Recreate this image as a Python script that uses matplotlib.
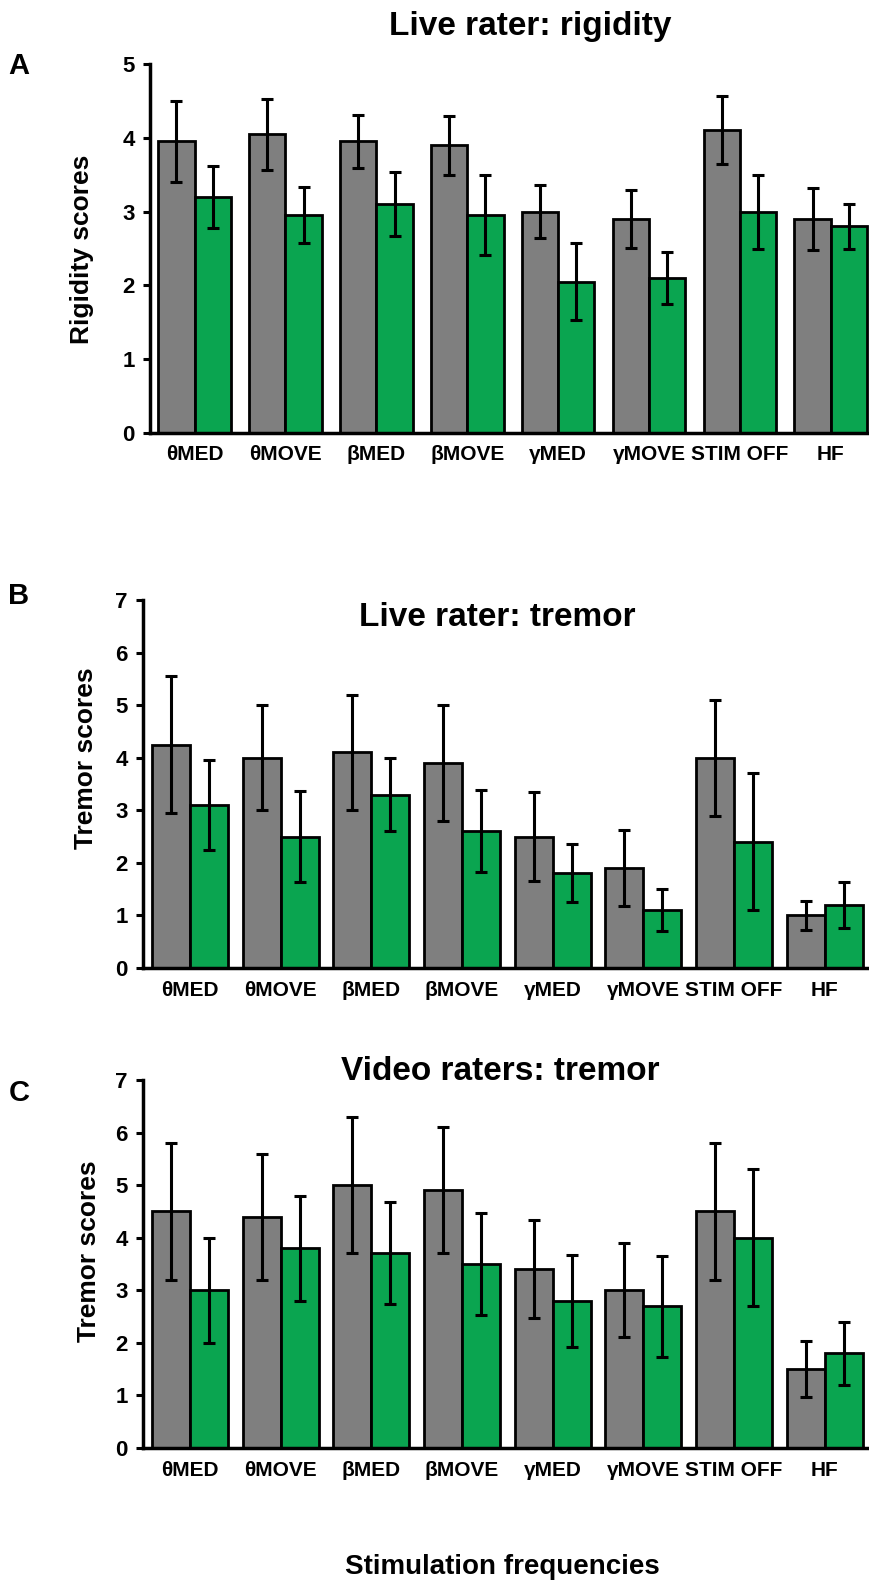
import matplotlib
matplotlib.use("Agg")
import matplotlib.pyplot as plt
import numpy as np

plt.rcParams['font.family'] = ['Liberation Sans', 'DejaVu Sans']
plt.rcParams['font.weight'] = 'bold'

labels = ["θMED", "θMOVE", "βMED", "βMOVE", "γMED", "γMOVE", "STIM OFF", "HF"]

# A - live rater rigidity
rig_grey = [3.95, 4.05, 3.95, 3.9, 3.0, 2.9, 4.1, 2.9]
rig_grey_err = [0.55, 0.48, 0.36, 0.4, 0.36, 0.39, 0.46, 0.42]
rig_green = [3.2, 2.95, 3.1, 2.95, 2.05, 2.1, 3.0, 2.8]
rig_green_err = [0.42, 0.38, 0.43, 0.54, 0.52, 0.35, 0.5, 0.3]

# B - live rater tremor
lt_grey = [4.25, 4.0, 4.1, 3.9, 2.5, 1.9, 4.0, 1.0]
lt_grey_err = [1.3, 1.0, 1.1, 1.1, 0.85, 0.72, 1.1, 0.27]
lt_green = [3.1, 2.5, 3.3, 2.6, 1.8, 1.1, 2.4, 1.2]
lt_green_err = [0.85, 0.87, 0.7, 0.78, 0.55, 0.4, 1.3, 0.43]

# C - video raters tremor
vt_grey = [4.5, 4.4, 5.0, 4.9, 3.4, 3.0, 4.5, 1.5]
vt_grey_err = [1.3, 1.2, 1.3, 1.2, 0.93, 0.89, 1.3, 0.53]
vt_green = [3.0, 3.8, 3.7, 3.5, 2.8, 2.7, 4.0, 1.8]
vt_green_err = [1.0, 1.0, 0.97, 0.97, 0.88, 0.96, 1.3, 0.6]

GREY = "#7f7f7f"
GREEN = "#0aa550"
W, H = 869, 1581


def draw_panel(ax, grey, grey_err, green, green_err, ymax, w, xl):
    x = np.arange(len(labels))
    ekw = dict(ecolor="black", elinewidth=2.2, capsize=4.5, capthick=2.2)
    ax.bar(x - w/2, grey, w, color=GREY, edgecolor="black", linewidth=2.0,
           yerr=grey_err, error_kw=ekw, zorder=2)
    ax.bar(x + w/2, green, w, color=GREEN, edgecolor="black", linewidth=2.0,
           yerr=green_err, error_kw=ekw, zorder=2)
    ax.set_xlim(xl)
    ax.set_ylim(0, ymax)
    ax.set_yticks(range(ymax + 1))
    ax.set_xticks(x)
    ax.set_xticklabels(labels, fontsize=15, fontweight="bold")
    ax.tick_params(axis="x", length=0, pad=9)
    ax.tick_params(axis="y", length=5, width=2.2, labelsize=16, pad=6)
    for t in ax.get_yticklabels():
        t.set_fontweight("bold")
    for s in ["top", "right"]:
        ax.spines[s].set_visible(False)
    for s in ["left", "bottom"]:
        ax.spines[s].set_linewidth(2.5)
    ax.patch.set_alpha(0)


fig = plt.figure(figsize=(W/100, H/100), dpi=100)

axA = fig.add_axes([150/W, 1 - 433/H, 1 - 150/W, 369/H])
draw_panel(axA, rig_grey, rig_grey_err, rig_green, rig_green_err, 5, 0.40, (-0.49, 7.42))
axB = fig.add_axes([143/W, 1 - 968/H, 1 - 143/W, 368/H])
draw_panel(axB, lt_grey, lt_grey_err, lt_green, lt_green_err, 7, 0.42, (-0.52, 7.49))
axC = fig.add_axes([143/W, 1 - 1448/H, 1 - 143/W, 368/H])
draw_panel(axC, vt_grey, vt_grey_err, vt_green, vt_green_err, 7, 0.42, (-0.52, 7.49))

# titles
fig.text(530/W, 1 - 27/H, "Live rater: rigidity", fontsize=24, fontweight="bold", ha="center", va="center")
fig.text(497/W, 1 - 618/H, "Live rater: tremor", fontsize=24, fontweight="bold", ha="center", va="center")
fig.text(500/W, 1 - 1072/H, "Video raters: tremor", fontsize=24, fontweight="bold", ha="center", va="center")

# panel letters
fig.text(19/W, 1 - 66/H, "A", fontsize=21, fontweight="bold", ha="center", va="center")
fig.text(19/W, 1 - 596/H, "B", fontsize=21, fontweight="bold", ha="center", va="center")
fig.text(19/W, 1 - 1093/H, "C", fontsize=21, fontweight="bold", ha="center", va="center")

# y labels
fig.text(82/W, 1 - 249/H, "Rigidity scores", fontsize=19, fontweight="bold", rotation=90, ha="center", va="center")
fig.text(86/W, 1 - 758/H, "Tremor scores", fontsize=19, fontweight="bold", rotation=90, ha="center", va="center")
fig.text(89/W, 1 - 1251/H, "Tremor scores", fontsize=19, fontweight="bold", rotation=90, ha="center", va="center")

fig.text(502/W, 1 - 1567/H, "Stimulation frequencies", fontsize=20, fontweight="bold", ha="center", va="center")

fig.savefig("out.png", dpi=100)
